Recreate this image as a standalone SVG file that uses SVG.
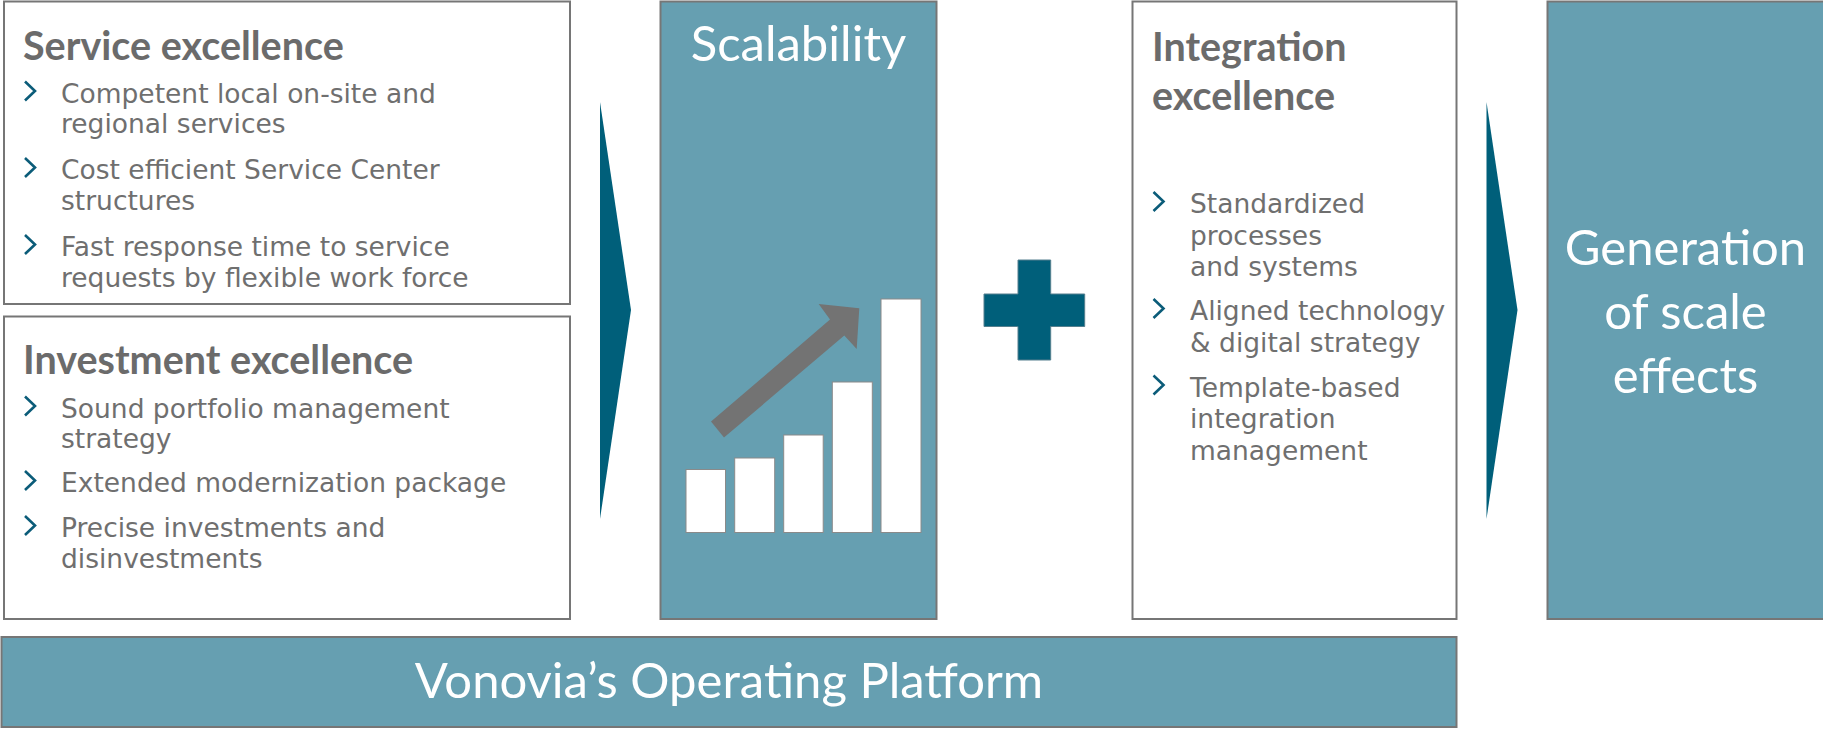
<svg xmlns="http://www.w3.org/2000/svg" xmlns:xlink="http://www.w3.org/1999/xlink" width="1823" height="729" viewBox="0 0 1823 729">
<style>
.box{fill:#ffffff;stroke:#767676;stroke-width:2}
.tbox{fill:#669fb1;stroke:#767676;stroke-width:2}
.h{font-family:Lato,"Liberation Sans",sans-serif;font-weight:700;font-size:39.5px;fill:#6b6b6b}
.b{font-family:"DejaVu Sans",Verdana,sans-serif;font-size:26.5px;fill:#6f6f6f}
.w{font-family:Lato,"Open Sans",sans-serif;font-size:49px;fill:#ffffff;text-anchor:middle}
.chev{fill:none;stroke:#0b5c79;stroke-width:2.6}
.dark{fill:#005f7a}
.bar{fill:#ffffff;stroke:#8a8a8a;stroke-width:1}
</style>
<defs>
<path id="bul" d="M0,0 L10,9.5 L0,19" class="chev"/>
</defs>
<rect width="1823" height="729" fill="#ffffff"/>

<g id="service-excellence">
<rect class="box" x="4" y="1.5" width="566" height="302.5"/>
<text class="h" x="23" y="59.5">Service excellence</text>
<use xlink:href="#bul" x="25" y="81.5"/>
<text class="b" x="61" y="102.5">Competent local on-site and</text>
<text class="b" x="61" y="133">regional services</text>
<use xlink:href="#bul" x="25" y="158"/>
<text class="b" x="61" y="179">Cost efficient Service Center</text>
<text class="b" x="61" y="210">structures</text>
<use xlink:href="#bul" x="25" y="235"/>
<text class="b" x="61" y="256">Fast response time to service</text>
<text class="b" x="61" y="286.5">requests by flexible work force</text>
</g>

<g id="investment-excellence">
<rect class="box" x="4" y="316.5" width="566" height="302.5"/>
<text class="h" x="23" y="374">Investment excellence</text>
<use xlink:href="#bul" x="25" y="396.5"/>
<text class="b" x="61" y="417.5">Sound portfolio management</text>
<text class="b" x="61" y="448">strategy</text>
<use xlink:href="#bul" x="25" y="471"/>
<text class="b" x="61" y="492">Extended modernization package</text>
<use xlink:href="#bul" x="25" y="516"/>
<text class="b" x="61" y="537">Precise investments and</text>
<text class="b" x="61" y="567.5">disinvestments</text>
</g>

<g id="scalability">
<rect class="tbox" x="660.5" y="1.5" width="276" height="617.5"/>
<text class="w" x="798.5" y="61">Scalability</text>
<rect class="bar" x="686" y="469.5" width="39.5" height="63"/>
<rect class="bar" x="734.7" y="458" width="40" height="74.5"/>
<rect class="bar" x="783.7" y="435" width="39.5" height="97.5"/>
<rect class="bar" x="832.3" y="382" width="40" height="150.5"/>
<rect class="bar" x="881" y="299" width="40" height="233.5"/>
<polygon fill="#737373" points="711,421.6 830,319.6 818.7,304.1 859.3,308.2 856.7,349 844.3,335.5 724,437.6"/>
</g>

<g id="plus">
<polygon class="dark" stroke="#557f8e" stroke-width="1" points="1018,260 1050.7,260 1050.7,294 1084.7,294 1084.7,326.5 1050.7,326.5 1050.7,360 1018,360 1018,326.5 984,326.5 984,294 1018,294"/>
</g>

<g id="integration-excellence">
<rect class="box" x="1132.5" y="1.5" width="324" height="617.5"/>
<text class="h" x="1152" y="60.5">Integration</text>
<text class="h" x="1152" y="109.5">excellence</text>
<use xlink:href="#bul" x="1153.5" y="192"/>
<text class="b" x="1190" y="213">Standardized</text>
<text class="b" x="1190" y="244.5">processes</text>
<text class="b" x="1190" y="276">and systems</text>
<use xlink:href="#bul" x="1153.5" y="299"/>
<text class="b" x="1190" y="320">Aligned technology</text>
<text class="b" x="1190" y="351.5">&amp; digital strategy</text>
<use xlink:href="#bul" x="1153.5" y="375.5"/>
<text class="b" x="1190" y="396.5">Template-based</text>
<text class="b" x="1190" y="428">integration</text>
<text class="b" x="1190" y="459.5">management</text>
</g>

<g id="generation-of-scale-effects">
<rect class="tbox" x="1547.5" y="1.5" width="278" height="617.5"/>
<text class="w" x="1685.5" y="265">Generation</text>
<text class="w" x="1685.5" y="329">of scale</text>
<text class="w" x="1685.5" y="393">effects</text>
</g>

<g id="operating-platform">
<rect class="tbox" x="1.5" y="637" width="1455" height="90"/>
<text class="w" x="729" y="697.5">Vonovia’s Operating Platform</text>
</g>

<g id="connectors">
<polygon class="dark" points="600,102 631,310 600,519"/>
<polygon class="dark" points="1486.5,102 1517.5,310 1486.5,519"/>
</g>
</svg>
